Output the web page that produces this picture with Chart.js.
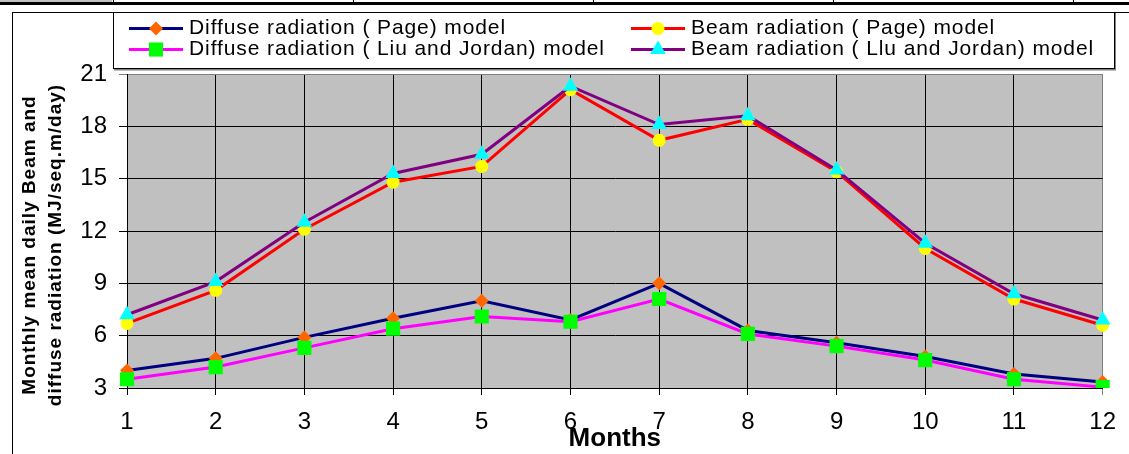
<!DOCTYPE html>
<html>
<head>
<meta charset="utf-8">
<script src="https://cdn.jsdelivr.net/npm/chart.js@4.4.0/dist/chart.umd.min.js"></script>
<style>
    html, body { margin: 0; padding: 0; background: #fff; }
    #wrap { position: relative; width: 1129px; height: 454px; overflow: hidden; }
    .strip-cell { position: absolute; left: 0; top: 0; width: 112px; height: 2px; background: #c0c0c0; }
    .strip-line { position: absolute; left: 0; top: 2px; width: 1129px; height: 3px; background: #000; }
    .strip-sep { position: absolute; top: 0; width: 1px; height: 3px; background: #000; }
    #frame { position: absolute; left: 12px; top: 12px; width: 1140px; height: 470px; border: 1px solid #000; }
    canvas { position: absolute; left: 0; top: 0; }
</style>
</head>
<body>
<div id="wrap">
    <div class="strip-cell"></div>
    <div class="strip-line"></div>
    <div class="strip-sep" style="left:113px"></div>
    <div class="strip-sep" style="left:353px"></div>
    <div class="strip-sep" style="left:593px"></div>
    <div class="strip-sep" style="left:833px"></div>
    <div class="strip-sep" style="left:1073px"></div>
    <div id="frame"></div>
    <canvas id="chart" width="1129" height="454"></canvas>
</div>
<script>
const months = ['1', '2', '3', '4', '5', '6', '7', '8', '9', '10', '11', '12'];
const yTickValues = [3, 6, 9, 12, 15, 18, 21];

// MJ/sq.m/day
const diffusePage = [4.0, 4.7, 5.9, 7.0, 8.0, 6.9, 9.0, 6.3, 5.6, 4.8, 3.8, 3.35];
const beamPage = [6.7, 8.6, 12.1, 14.8, 15.7, 20.1, 17.2, 18.4, 15.4, 11.0, 8.1, 6.6];
const diffuseLJ = [3.5, 4.2, 5.3, 6.4, 7.1, 6.8, 8.1, 6.1, 5.4, 4.6, 3.5, 3.05];
const beamLJ = [7.2, 9.1, 12.5, 15.3, 16.4, 20.3, 18.1, 18.6, 15.5, 11.3, 8.4, 6.9];

const yTitle = ['Monthly mean daily Beam and', 'diffuse radiation (MJ/seq.m/day)'];
const xTitle = 'Months';

const FONT = "'Liberation Sans', Arial, sans-serif";

// plot background + y title + legend
const decorPlugin = {
    id: 'decor',
    beforeDraw(chart) {
        const { ctx, chartArea: a } = chart;
        ctx.save();
        ctx.fillStyle = '#c0c0c0';
        ctx.fillRect(a.left, a.top, a.right - a.left, a.bottom - a.top);
        ctx.restore();
    },
    afterDraw(chart) {
        const ctx = chart.ctx;

        // y axis title, two rotated lines
        ctx.save();
        ctx.fillStyle = '#000';
        ctx.font = 'bold 19px ' + FONT;
        if ('letterSpacing' in ctx) ctx.letterSpacing = '1px';
        ctx.textAlign = 'center';
        ctx.textBaseline = 'middle';
        [30, 56].forEach((x, i) => {
            ctx.save();
            ctx.translate(x, 245);
            ctx.rotate(-Math.PI / 2);
            ctx.fillText(yTitle[i], 0, 0);
            ctx.restore();
        });
        ctx.restore();

        // legend box
        ctx.save();
        ctx.fillStyle = '#fff';
        ctx.fillRect(113, 12, 1001, 57);
        ctx.strokeStyle = '#808080';
        ctx.lineWidth = 2;
        ctx.beginPath();
        ctx.moveTo(114, 69.5);
        ctx.lineTo(1115, 69.5);
        ctx.lineTo(1115, 13);
        ctx.stroke();
        ctx.strokeStyle = '#000';
        ctx.lineWidth = 1;
        ctx.strokeRect(113.5, 12.5, 1001, 56);

        const cols = [129, 631];
        const rows = [28.5, 49.5];
        chart.data.datasets.forEach((ds, i) => {
            const x0 = cols[i % 2];
            const y = rows[Math.floor(i / 2)];
            ctx.strokeStyle = ds.borderColor;
            ctx.lineWidth = 3;
            ctx.beginPath();
            ctx.moveTo(x0, y);
            ctx.lineTo(x0 + 54, y);
            ctx.stroke();
            ctx.fillStyle = ds.pointBackgroundColor;
            ctx.strokeStyle = ds.pointBackgroundColor;
            Chart.helpers.drawPoint(ctx, {
                pointStyle: ds.pointStyle,
                radius: ds.pointRadius,
                rotation: 0,
                borderWidth: 0
            }, x0 + 27, y);
            ctx.fillStyle = '#000';
            ctx.font = '21px ' + FONT;
            if ('letterSpacing' in ctx) ctx.letterSpacing = '0.9px';
            ctx.textAlign = 'left';
            ctx.textBaseline = 'middle';
            ctx.fillText(ds.label, x0 + 60, y);
        });
        ctx.restore();
    }
};

const tickFont = { family: FONT, size: 24 };

new Chart(document.getElementById('chart'), {
    type: 'line',
    data: {
        labels: months,
        datasets: [
            {
                label: 'Diffuse radiation ( Page) model',
                data: diffusePage,
                borderColor: '#000080',
                pointBackgroundColor: '#ff6600',
                pointBorderColor: '#ff6600',
                pointStyle: 'rectRot',
                pointRadius: 7,
                order: 4
            },
            {
                label: 'Beam radiation ( Page) model',
                data: beamPage,
                borderColor: '#ff0000',
                pointBackgroundColor: '#ffff00',
                pointBorderColor: '#ffff00',
                pointStyle: 'circle',
                pointRadius: 6.5,
                order: 3
            },
            {
                label: 'Diffuse radiation ( Liu and Jordan) model',
                data: diffuseLJ,
                borderColor: '#ff00ff',
                pointBackgroundColor: '#00ff00',
                pointBorderColor: '#00ff00',
                pointStyle: 'rect',
                pointRadius: 10,
                order: 2
            },
            {
                label: 'Beam radiation ( Llu and Jordan) model',
                data: beamLJ,
                borderColor: '#800080',
                pointBackgroundColor: '#00ffff',
                pointBorderColor: '#00ffff',
                pointStyle: 'triangle',
                pointRadius: 9,
                order: 1
            }
        ]
    },
    options: {
        responsive: false,
        animation: false,
        devicePixelRatio: 1,
        layout: { padding: { left: 0, top: 74, right: 22, bottom: 0 } },
        elements: {
            line: { borderWidth: 3, tension: 0 },
            point: { borderWidth: 0, hoverRadius: 0 }
        },
        plugins: {
            legend: { display: false },
            tooltip: { enabled: false }
        },
        scales: {
            x: {
                offset: false,
                grid: {
                    color: c => c.index === months.length - 1 ? '#808080' : '#000',
                    tickLength: 7
                },
                border: { color: '#000' },
                ticks: { font: tickFont, color: '#000', padding: 13, maxRotation: 0, autoSkip: false },
                title: {
                    display: true,
                    text: xTitle,
                    color: '#000',
                    font: { family: FONT, size: 26, weight: 'bold', lineHeight: 1 },
                    padding: { top: 0, bottom: 2 }
                },
                afterFit: s => { s.height = 66; }
            },
            y: {
                min: yTickValues[0],
                max: yTickValues[yTickValues.length - 1],
                afterBuildTicks: s => { s.ticks = yTickValues.map(v => ({ value: v })); },
                grid: {
                    color: c => c.tick && c.tick.value === 21 ? '#808080' : '#000',
                    tickLength: 8
                },
                border: { color: '#000' },
                ticks: { font: tickFont, color: '#000', padding: 12 },
                afterFit: s => { s.width = 127; }
            }
        }
    },
    plugins: [decorPlugin]
});
</script>
</body>
</html>
